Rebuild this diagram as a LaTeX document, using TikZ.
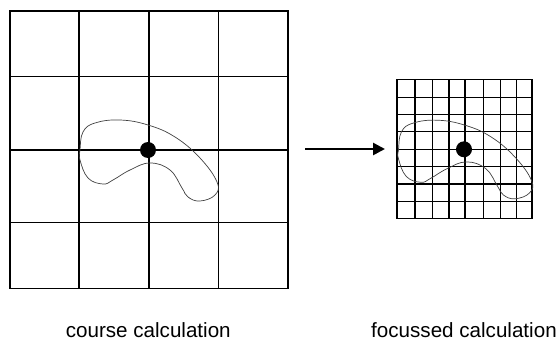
\documentclass[tikz,border=0pt]{standalone}
\usepackage{fontspec}
\setmainfont{Liberation Sans}
\usetikzlibrary{arrows.meta,positioning}

\begin{document}
\begin{tikzpicture}[x=1pt,y=-1pt,
  gridln/.style={line width=1.6pt},
  blob/.style={line width=0.7pt,black!75},
  dot/.style={circle,fill=black,inner sep=0pt,minimum size=16pt},
  lbl/.style={font=\fontsize{20.6}{24}\selectfont,anchor=base,inner sep=0pt},
  arr/.style={line width=2.6pt,-{Triangle[length=12pt,width=12pt]}}]
  \useasboundingbox (0,0) rectangle (558,340);
  \foreach \x in {78.7,148.7,218.3}
    \draw[gridln] (\x,10.7) -- (\x,288.3);
  \foreach \y in {76.3,149.7,222.3}
    \draw[gridln] (10,\y) -- (287.7,\y);
  \draw[gridln] (10,10.7) rectangle (287.7,288.3);
  \foreach \x in {415,432.3,449,465,483.3,500.7,516.7}
    \draw[gridln,line width=1.5pt] (\x,79.3) -- (\x,218.3);
  \foreach \y in {97.3,114.3,131.3,149.3,166.7,184,201.7}
    \draw[gridln,line width=1.5pt] (396.7,\y) -- (531.7,\y);
  \draw[gridln] (396.7,79.3) rectangle (531.7,218.3);
  \foreach \cx/\cy/\s in {148/150/1,464.5/149.3/0.97}
    \draw[blob,shift={(\cx,\cy)},scale=\s] plot[smooth cycle,tension=0.7] coordinates {
      (-68,0) (-65,-18) (-53,-27) (-28,-30) (0,-25) (27,-13) (52,8) (69,32)
      (67,45) (52,51) (40,47) (34,38) (22,20) (2,13) (-18,20) (-35,30)
      (-45,34) (-60,28) (-68,10)};
  \node[dot] (cdot) at (148,150) {};
  \node[dot] (fdot) at (464,149.3) {};
  \coordinate (from) at (305,149);
  \coordinate (to) at (385,149);
  \draw[arr] (from) -- (to);
  \node[lbl] (clbl) at (148.3,337) {course calculation};
  \node[lbl] (flbl) at (464,337) {focussed calculation};
\end{tikzpicture}
\end{document}
